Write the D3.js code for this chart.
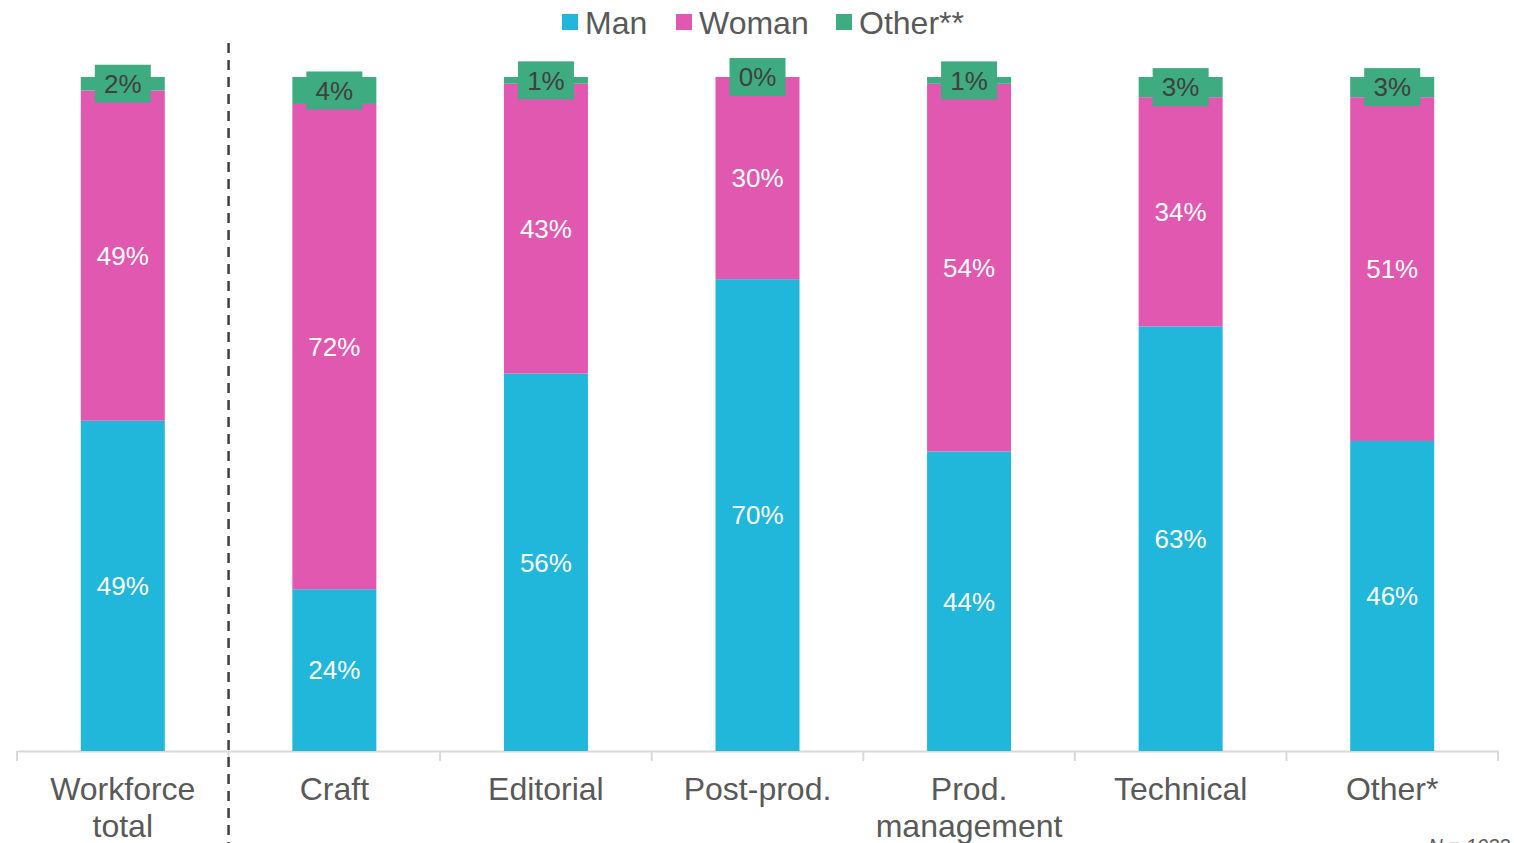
<!DOCTYPE html>
<html>
<head>
<meta charset="utf-8">
<script src="https://cdn.jsdelivr.net/npm/d3@7"></script>
<style>
  html, body { margin: 0; padding: 0; background: #fff; }
  svg { display: block; font-family: "Liberation Sans", Arial, sans-serif; }
</style>
</head>
<body>
<svg id="chart" width="1514" height="843"></svg>
<script>
// Workforce gender split by department (percent)
const categories = ["Workforce total", "Craft", "Editorial", "Post-prod.", "Prod. management", "Technical", "Other*"];
const categoryLines = [["Workforce", "total"], ["Craft"], ["Editorial"], ["Post-prod."], ["Prod.", "management"], ["Technical"], ["Other*"]];
const man   = [49, 24, 56, 70, 44, 63, 46];
const woman = [49, 72, 43, 30, 54, 34, 51];
const other = [2, 4, 1, 0, 1, 3, 3];
const seriesNames = ["Man", "Woman", "Other**"];
const sampleNote = "N = 1033";

const colors = { "Man": "#21b7da", "Woman": "#e058af", "Other**": "#3eab80" };

const rows = categories.map((c, i) => ({ cat: c, "Man": man[i], "Woman": woman[i], "Other**": other[i] }));

const svg = d3.select("#chart");
const margin = { left: 17, right: 16, top: 77, bottom: 92 };
const W = 1514, H = 843;

const x = d3.scaleBand().domain(categories).range([margin.left, W - margin.right]).paddingInner(0).paddingOuter(0);
const y = d3.scaleLinear().domain([0, 1]).range([H - margin.bottom, margin.top]);

const stack = d3.stack().keys(seriesNames).offset(d3.stackOffsetExpand);
const stacked = stack(rows);

const barW = 84;
const cx = c => x(c) + x.bandwidth() / 2;

// axis baseline with tick separators
const axisY = H - margin.bottom;
const axis = d3.axisBottom(x).tickSize(0).tickFormat("");
const gAxis = svg.append("g").attr("transform", `translate(0,${axisY})`).call(axis);
gAxis.select(".domain").attr("stroke", "#d9d9d9").attr("stroke-width", 2);
const bounds = categories.map(c => x(c)).concat([x(categories[categories.length - 1]) + x.bandwidth()]);
svg.append("g").selectAll("line").data(bounds).join("line")
  .attr("x1", d => d).attr("x2", d => d)
  .attr("y1", axisY).attr("y2", axisY + 10)
  .attr("stroke", "#d9d9d9").attr("stroke-width", 2);

// stacked bars
const layers = svg.append("g").selectAll("g").data(stacked).join("g")
  .attr("fill", d => colors[d.key]);
layers.selectAll("rect").data(d => d).join("rect")
  .attr("x", d => cx(d.data.cat) - barW / 2)
  .attr("width", barW)
  .attr("y", d => y(d[1]))
  .attr("height", d => Math.max(0, y(d[0]) - y(d[1])));

// value labels
stacked.forEach(layer => {
  const g = svg.append("g");
  layer.forEach(d => {
    const val = d.data[layer.key];
    const mid = (y(d[0]) + y(d[1])) / 2;
    const px = cx(d.data.cat);
    if (layer.key === "Other**") {
      g.append("rect")
        .attr("x", px - 28).attr("y", mid - 19)
        .attr("width", 56).attr("height", 38)
        .attr("fill", colors["Other**"]);
      g.append("text")
        .attr("x", px).attr("y", mid)
        .attr("dy", "0.36em")
        .attr("text-anchor", "middle")
        .attr("font-size", 26)
        .attr("fill", "#404040")
        .text(val + "%");
    } else {
      g.append("text")
        .attr("x", px).attr("y", mid)
        .attr("dy", "0.36em")
        .attr("text-anchor", "middle")
        .attr("font-size", 26)
        .attr("fill", "#ffffff")
        .text(val + "%");
    }
  });
});

// category labels
const catG = svg.append("g");
categories.forEach((c, i) => {
  const t = catG.append("text")
    .attr("x", cx(c)).attr("y", 800)
    .attr("text-anchor", "middle")
    .attr("font-size", 32)
    .attr("fill", "#595959");
  categoryLines[i].forEach((line, j) => {
    t.append("tspan").attr("x", cx(c)).attr("dy", j === 0 ? 0 : 37).text(line);
  });
});

// separator between total and departments
svg.append("line")
  .attr("x1", x(categories[1])).attr("x2", x(categories[1]))
  .attr("y1", 43).attr("y2", H)
  .attr("stroke", "#404040").attr("stroke-width", 2.5)
  .attr("stroke-dasharray", "10,7");

// legend
const legendItems = [
  { key: "Man", sx: 562 },
  { key: "Woman", sx: 676 },
  { key: "Other**", sx: 836 }
];
const leg = svg.append("g");
legendItems.forEach(it => {
  leg.append("rect").attr("x", it.sx).attr("y", 14).attr("width", 16).attr("height", 16).attr("fill", colors[it.key]);
  leg.append("text").attr("x", it.sx + 23).attr("y", 22).attr("dy", "0.36em")
    .attr("font-size", 32).attr("fill", "#595959").text(it.key);
});

// sample size note, running off the lower edge
svg.append("text")
  .attr("x", 1510).attr("y", 853)
  .attr("text-anchor", "end")
  .attr("font-size", 20)
  .attr("font-style", "italic")
  .attr("fill", "#595959")
  .text(sampleNote);
</script>
</body>
</html>
